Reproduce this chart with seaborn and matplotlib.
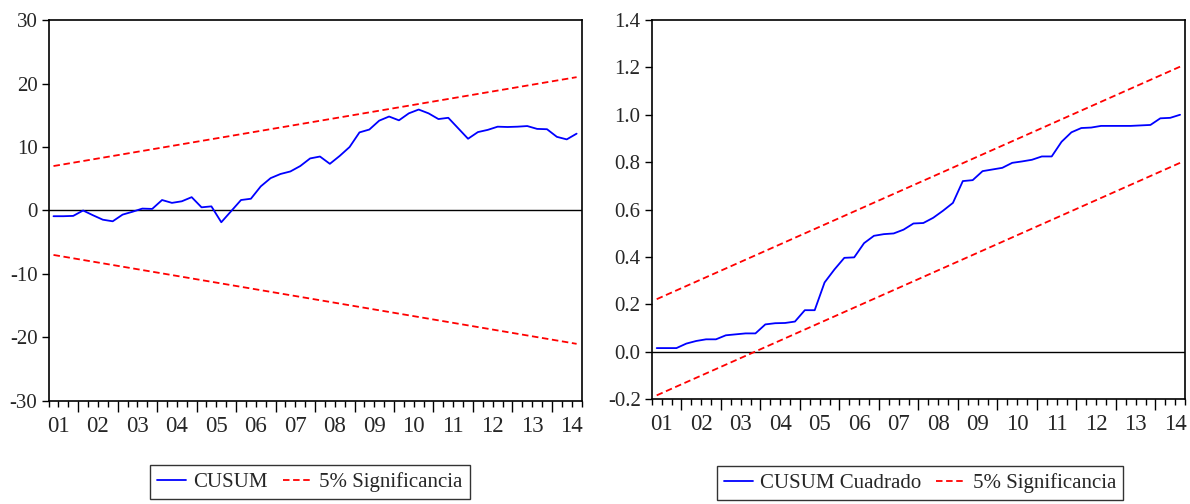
import numpy as np
import pandas as pd
import matplotlib
matplotlib.use("Agg")
import matplotlib.pyplot as plt
import seaborn as sns

# Quarterly sample 2001Q2 - 2014Q3 (54 observations)
quarters = pd.period_range("2001Q2", "2014Q3", freq="Q")
years = list(range(2001, 2015))
year_labels = [f"{y % 100:02d}" for y in years]

cusum = [
    -0.9, -0.9, -0.85, 0.0, -0.75, -1.45, -1.7, -0.65, -0.2, 0.3,
    0.25, 1.65, 1.2, 1.45, 2.1, 0.5, 0.65, -1.85, -0.1, 1.65,
    1.85, 3.8, 5.1, 5.75, 6.15, 7.0, 8.2, 8.5, 7.35, 8.6,
    10.0, 12.3, 12.75, 14.15, 14.8, 14.2, 15.3, 15.9, 15.3, 14.4,
    14.6, 12.95, 11.3, 12.35, 12.7, 13.2, 13.15, 13.2, 13.3, 12.85,
    12.8, 11.6, 11.2, 12.1,
]
cusum_upper = [7.0, 21.0]     # band at first and last observation
cusum_lower = [-7.0, -21.0]

cusumsq = [
    0.015, 0.015, 0.015, 0.034, 0.045, 0.052, 0.052, 0.069, 0.073, 0.077,
    0.077, 0.115, 0.12, 0.121, 0.127, 0.175, 0.175, 0.292, 0.347, 0.396,
    0.398, 0.458, 0.489, 0.496, 0.499, 0.515, 0.541, 0.543, 0.565, 0.595,
    0.628, 0.72, 0.724, 0.762, 0.769, 0.776, 0.797, 0.803, 0.81, 0.824,
    0.824, 0.886, 0.926, 0.944, 0.946, 0.953, 0.953, 0.953, 0.953, 0.955,
    0.957, 0.985, 0.987, 1.0,
]
cusumsq_upper = [0.2215, 1.2030]
cusumsq_lower = [-0.1845, 0.7970]

sns.set_style("ticks")
plt.rcParams["font.family"] = ["Liberation Serif", "DejaVu Serif"]

BLUE = "#0000FF"
RED = "#FF0000"
LW = 1.3
n = len(quarters)
idx = np.arange(n)

main_df = pd.DataFrame({"t": idx, "cusum": cusum, "cusumsq": cusumsq})
band_t = [0, n - 1]

fig = plt.figure(figsize=(11.90, 5.04), dpi=100)
ax1 = fig.add_axes([0.0408, 0.2044, 0.4479, 0.7559])
ax2 = fig.add_axes([0.5477, 0.2083, 0.4481, 0.7520])


def style_axis(ax, ylim, yticks, yfmt):
    ax.set_xlim(-0.5, n - 0.5)
    ax.set_ylim(*ylim)
    ax.set_yticks(yticks)
    ax.set_yticklabels([yfmt(v) for v in yticks])
    # year boundaries (long ticks) and quarter boundaries (short ticks)
    first_year_start = 3 - 0.5  # 2002Q1 boundary
    year_bounds = list(np.arange(first_year_start, n - 0.5, 4))
    all_bounds = np.arange(-0.5, n, 1.0)
    quarter_bounds = [b for b in all_bounds if not any(abs(b - yb) < 1e-6 for yb in year_bounds)]
    centers = {round(first_year_start - 2 + 4 * k, 3): lab for k, lab in enumerate(year_labels)}
    q_labels = [centers.get(round(b, 3), "") for b in quarter_bounds]
    ax.set_xticks(year_bounds)
    ax.set_xticklabels([])
    ax.set_xticks(quarter_bounds, minor=True)
    ax.set_xticklabels(q_labels, minor=True)
    ax.tick_params(axis="x", which="major", length=8, width=1.0, direction="out", color="black")
    ax.tick_params(axis="x", which="minor", length=4, width=1.0, direction="out", color="black",
                   labelsize=16.5, pad=7)
    ax.tick_params(axis="y", length=5, width=1.0, direction="out", labelsize=15, pad=3, color="black")
    for s in ax.spines.values():
        s.set_visible(True)
        s.set_linewidth(1.2)
        s.set_color("black")
    ax.axhline(0, color="black", linewidth=1.0, zorder=1)
    ax.set_xlabel("")
    ax.set_ylabel("")


dash = (3.6, 2.0)

# CUSUM
sns.lineplot(data=main_df, x="t", y="cusum", ax=ax1, color=BLUE, linewidth=LW,
             label="CUSUM", zorder=3)
sns.lineplot(x=band_t, y=cusum_upper, ax=ax1, color=RED, linewidth=LW,
             label="5% Significancia", zorder=2).lines[-1].set_dashes(dash)
sns.lineplot(x=band_t, y=cusum_lower, ax=ax1, color=RED, linewidth=LW,
             zorder=2).lines[-1].set_dashes(dash)
style_axis(ax1, (-30, 30), list(range(-30, 31, 10)), lambda v: f"{v:d}")

# CUSUM of squares
sns.lineplot(data=main_df, x="t", y="cusumsq", ax=ax2, color=BLUE, linewidth=LW,
             label="CUSUM Cuadrado", zorder=3)
sns.lineplot(x=band_t, y=cusumsq_upper, ax=ax2, color=RED, linewidth=LW,
             label="5% Significancia", zorder=2).lines[-1].set_dashes(dash)
sns.lineplot(x=band_t, y=cusumsq_lower, ax=ax2, color=RED, linewidth=LW,
             zorder=2).lines[-1].set_dashes(dash)
style_axis(ax2, (-0.2, 1.4), [round(-0.2 + 0.2 * k, 1) for k in range(9)],
           lambda v: f"{v:.1f}")

for ax, anchor_y, xc in ((ax1, -0.168, 0.49), (ax2, -0.176, 0.503)):
    handles, labels = ax.get_legend_handles_labels()
    leg = ax.legend(handles[:2], labels[:2], loc="upper center",
                    bbox_to_anchor=(xc, anchor_y), ncol=2, frameon=True,
                    fancybox=False, shadow=False, fontsize=15,
                    handlelength=1.4, handletextpad=0.35, columnspacing=0.7,
                    borderpad=0.35, borderaxespad=0.0)
    leg.get_frame().set_edgecolor("black")
    leg.get_frame().set_linewidth(1.0)

fig.savefig("out.png", dpi=100)
